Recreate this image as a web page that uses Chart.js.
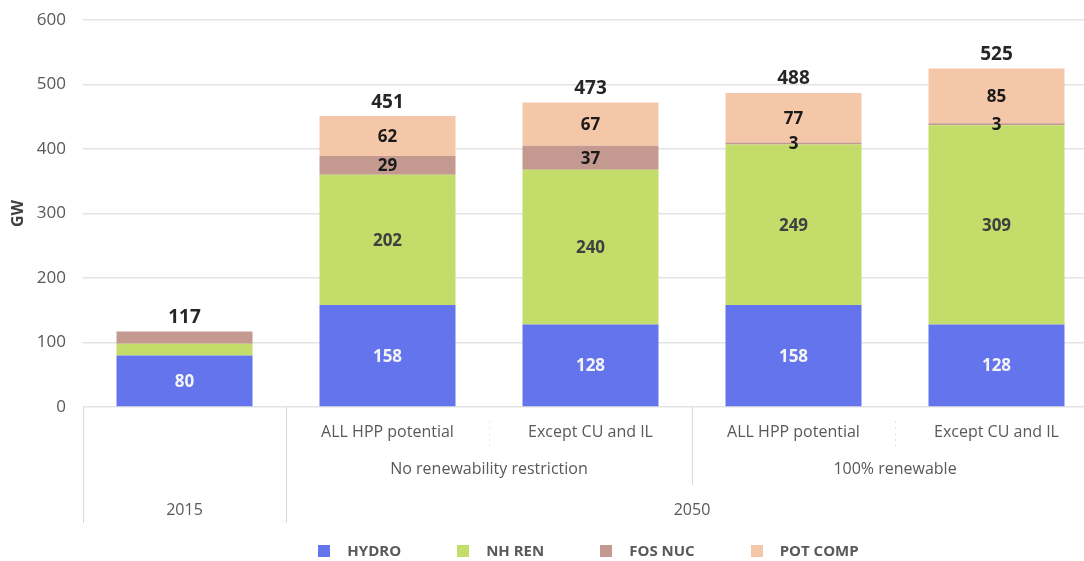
<!DOCTYPE html>
<html><head><meta charset="utf-8">
<script src="https://cdn.jsdelivr.net/npm/chart.js@4.4.1/dist/chart.umd.min.js"></script>
<style>
html,body{margin:0;padding:0;background:#fff;overflow:hidden;}
#wrap{width:1084px;height:561px;overflow:hidden;}
canvas{display:block;}
</style></head><body>
<div id="wrap"><canvas id="c" width="1100" height="561"></canvas></div>
<script>
// ---- data ----
const categories = ['2015', 'ALL HPP potential', 'Except CU and IL', 'ALL HPP potential', 'Except CU and IL'];
const level1Labels = ['', 'ALL HPP potential', 'Except CU and IL', 'ALL HPP potential', 'Except CU and IL'];
const level2Labels = ['No renewability restriction', '100% renewable'];
const level2Spans = [[1, 2], [3, 4]];
const level3Labels = ['2015', '2050'];
const level3Spans = [[0, 0], [1, 4]];
const seriesNames = ['HYDRO', 'NH REN', 'FOS NUC', 'POT COMP'];
const hydro = [80, 158, 128, 158, 128];
const nhRen = [18, 202, 240, 249, 309];
const fosNuc = [19, 29, 37, 3, 3];
const potComp = [0, 62, 67, 77, 85];
const totals = [117, 451, 473, 488, 525];
const yTicks = [0, 100, 200, 300, 400, 500, 600];

const colors = ['#6474ED', '#C4DC6A', '#C49A90', '#F5C7A9'];
const labelColors = ['#F4F4F4', '#404040', '#1A1A1A', '#1A1A1A'];
const FONT = '"Open Sans", "DejaVu Sans", sans-serif';

const labelPlugin = {
  id: 'barLabels',
  afterDatasetsDraw(chart) {
    const ctx = chart.ctx;
    ctx.save();
    ctx.textAlign = 'center';
    ctx.textBaseline = 'middle';
    ctx.font = 'bold 17px ' + FONT;
    const tops = [];
    chart.data.datasets.forEach((ds, di) => {
      const meta = chart.getDatasetMeta(di);
      meta.data.forEach((bar, i) => {
        const v = ds.data[i];
        if (tops[i] === undefined || bar.y < tops[i]) tops[i] = bar.y;
        if (!v) return;
        if (i === 0 && di > 0) return;
        ctx.fillStyle = labelColors[di];
        ctx.fillText(String(v), bar.x, (bar.y + bar.base) / 2 + 1);
      });
    });
    ctx.font = 'bold 19px ' + FONT;
    ctx.fillStyle = '#262626';
    const m0 = chart.getDatasetMeta(0);
    totals.forEach((t, i) => {
      ctx.fillText(String(t), m0.data[i].x, tops[i] - 14);
    });
    ctx.restore();
  }
};

const axisPlugin = {
  id: 'multiAxis',
  afterDraw(chart) {
    const ctx = chart.ctx;
    const x = chart.scales.x;
    const ca = chart.chartArea;
    const step = x.getPixelForValue(1) - x.getPixelForValue(0);
    const edgeL = i => x.getPixelForValue(i) - step / 2;
    const edgeR = i => x.getPixelForValue(i) + step / 2;
    ctx.save();
    // separators
    ctx.strokeStyle = '#D9D9D9';
    ctx.lineWidth = 1;
    const line = (px, y1, y2) => { ctx.beginPath(); ctx.moveTo(Math.round(px) + 0.5, y1); ctx.lineTo(Math.round(px) + 0.5, y2); ctx.stroke(); };
    level3Spans.forEach(s => { line(edgeL(s[0]), ca.bottom, ca.bottom + 116); });
    level2Spans.forEach((s, k) => { if (k > 0) line(edgeL(s[0]), ca.bottom, ca.bottom + 78); });
    // faint dotted separators between level-1 labels
    ctx.strokeStyle = '#E6E6E6';
    ctx.setLineDash([2, 4]);
    level2Spans.forEach(s => { line(edgeR(s[0]), ca.bottom + 14, ca.bottom + 42); });
    ctx.setLineDash([]);
    // labels
    ctx.fillStyle = '#595959';
    ctx.font = '16px ' + FONT;
    ctx.textAlign = 'center';
    ctx.textBaseline = 'middle';
    level1Labels.forEach((l, i) => { if (l) ctx.fillText(l, x.getPixelForValue(i), ca.bottom + 25); });
    level2Labels.forEach((l, k) => {
      const s = level2Spans[k];
      ctx.fillText(l, (x.getPixelForValue(s[0]) + x.getPixelForValue(s[1])) / 2, ca.bottom + 62);
    });
    level3Labels.forEach((l, k) => {
      const s = level3Spans[k];
      ctx.fillText(l, (x.getPixelForValue(s[0]) + x.getPixelForValue(s[1])) / 2, ca.bottom + 103);
    });
    // legend
    ctx.font = 'bold 15px ' + FONT;
    ctx.textAlign = 'left';
    const box = 12, gapText = 17, gapItem = 56;
    const widths = chart.data.datasets.map(d => box + gapText + ctx.measureText(d.label).width);
    const total = widths.reduce((a, b) => a + b, 0) + gapItem * (widths.length - 1);
    let cx = (ca.left + ca.right) / 2 - total / 2 - 2;
    const ly = ca.bottom + 144;
    chart.data.datasets.forEach((d, i) => {
      ctx.fillStyle = d.backgroundColor;
      ctx.fillRect(Math.round(cx), ly - 6, box, box);
      ctx.fillStyle = '#595959';
      ctx.fillText(d.label, cx + box + gapText, ly + 1);
      cx += widths[i] + gapItem;
    });
    ctx.restore();
  }
};

function build() {
  const seriesData = [hydro, nhRen, fosNuc, potComp];
  new Chart(document.getElementById('c'), {
    type: 'bar',
    data: {
      labels: categories,
      datasets: seriesNames.map((n, i) => ({
        label: n,
        data: seriesData[i],
        backgroundColor: colors[i],
        borderWidth: 0,
        categoryPercentage: 0.67,
        barPercentage: 1.0
      }))
    },
    options: {
      responsive: false,
      animation: false,
      devicePixelRatio: 1,
      layout: { padding: { top: 20, right: 2, left: 0, bottom: 0 } },
      plugins: { legend: { display: false }, tooltip: { enabled: false } },
      scales: {
        x: {
          stacked: true,
          grid: { display: false },
          border: { display: false },
          ticks: { display: false },
          afterFit: s => { s.height = 154; s.paddingLeft = 0; s.paddingRight = 0; }
        },
        y: {
          stacked: true,
          min: 0, max: 600,
          afterBuildTicks: s => { s.ticks = yTicks.map(v => ({ value: v })); },
          ticks: { color: '#595959', font: { family: FONT, size: 17 }, padding: 17 },
          grid: { color: '#E3E3E3', lineWidth: 1.5, drawTicks: false },
          border: { display: false },
          title: { display: true, text: 'GW', color: '#404040', font: { family: FONT, size: 16, weight: 'bold' }, padding: { top: 9, bottom: 0 } },
          afterFit: s => { s.width = 83; s.paddingTop = 0; s.paddingBottom = 0; }
        }
      }
    },
    plugins: [labelPlugin, axisPlugin]
  });
}
if (document.fonts && document.fonts.load) {
  Promise.all([
    document.fonts.load('15px "Open Sans"'),
    document.fonts.load('bold 15px "Open Sans"')
  ]).then(build, build);
} else { build(); }
</script>
</body></html>
